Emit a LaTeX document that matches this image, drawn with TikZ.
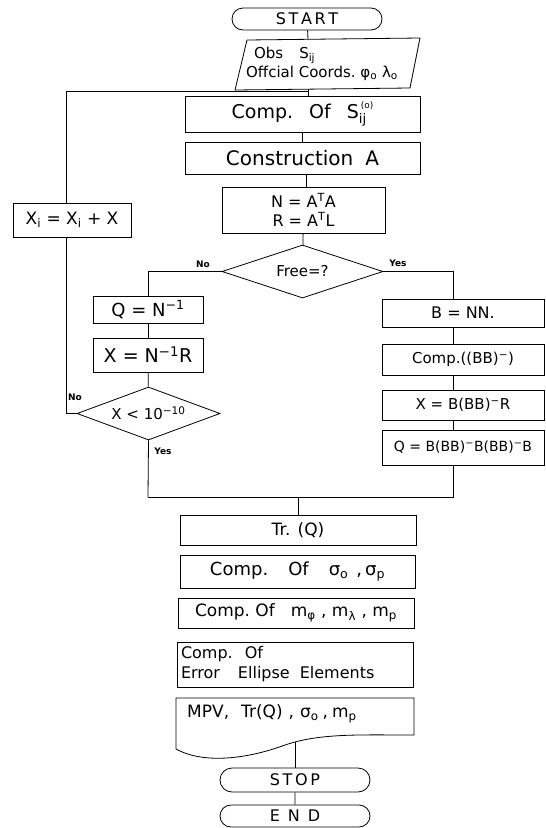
\documentclass[tikz,border=0pt]{standalone}
\usepackage{fontspec}
\setmainfont{DejaVu Sans}
\usetikzlibrary{shapes.geometric,shapes.misc}
\newcommand{\sub}[1]{\textsubscript{#1}}
\newcommand{\sups}[1]{\textsuperscript{#1}}
\tikzset{
  ln/.style={line width=0.8pt},
  box/.style={draw, ln, inner sep=0pt, font=\fontsize{16}{19}\selectfont},
  term/.style={box, rounded rectangle},
  dec/.style={draw, ln, diamond, inner sep=0pt, font=\fontsize{14}{17}\selectfont},
  lab/.style={font=\bfseries\fontsize{9}{10}\selectfont, inner sep=1pt},
  txt/.style={font=\fontsize{15}{19}\selectfont, inner sep=0pt}
}
\begin{document}
\begin{tikzpicture}[x=1pt,y=-1pt]
\useasboundingbox (0,0) rectangle (546,828);
% top
\node[term, minimum width=150pt, minimum height=22pt] (start) at (307,19) {S\,T\,A\,R\,T};
\coordinate (p1) at (235,90);
\coordinate (p2) at (247,40);
\coordinate (p3) at (420,38);
\coordinate (p4) at (410,88);
\draw[ln] (p1) -- (p2) -- (p3) -- (p4) -- cycle;
\node[txt, align=left] (obs) at (322,64) {\hspace{8pt}Obs\hspace{16pt}S\sub{ij}\\Offcial\ Coords.\ φ\sub{o} λ\sub{o}};
\coordinate (obsT) at (308,39);
\coordinate (obsB) at (308,89);
\node[box, minimum width=235pt, minimum height=36pt, font=\fontsize{19}{22}\selectfont] (comp) at (302.5,114) {Comp.\hspace{16pt}Of\hspace{16pt}S\sub{ij}\kern-6pt\raisebox{10pt}{\fontsize{9}{9}\selectfont(o)}};
\node[box, minimum width=235pt, minimum height=32pt, font=\fontsize{20}{22}\selectfont] (cons) at (302.5,158) {Construction\hspace{12pt}A};
\node[box, minimum width=163pt, minimum height=46pt, align=center] (na) at (303.5,210) {N = A\sups{T}A\\R = A\sups{T}L};
\node[dec, minimum width=161pt, minimum height=53pt, aspect=3, font=\fontsize{15}{18}\selectfont] (free) at (302.5,271.5) {Free=?};
% left branch
\node[box, minimum width=110pt, minimum height=27pt, font=\fontsize{18}{20}\selectfont] (q1) at (148,309.5) {Q = N\sups{−1}};
\node[box, minimum width=110pt, minimum height=34pt, font=\fontsize{19}{22}\selectfont] (x1) at (148,355) {X = N\sups{−1}R};
\node[dec, minimum width=143pt, minimum height=53pt, aspect=2.7, font=\fontsize{15}{18}\selectfont] (dx) at (148.5,413.5) {X < 10\sups{−10}};
\node[box, minimum width=118pt, minimum height=34pt, font=\fontsize{17}{20}\selectfont] (xi) at (72,220) {X\sub{i} = X\sub{i} + X};
% right branch
\node[box, minimum width=162pt, minimum height=28pt] (b) at (463,313) {B = NN.};
\node[box, minimum width=162pt, minimum height=31pt, font=\fontsize{15}{18}\selectfont] (cb) at (463,359.5) {Comp.((BB)\sups{−})};
\node[box, minimum width=162pt, minimum height=30pt, font=\fontsize{15}{18}\selectfont] (xb) at (463,405) {X = B(BB)\sups{−}R};
\node[box, minimum width=162pt, minimum height=35pt, font=\fontsize{14}{16}\selectfont] (qb) at (463,447.5) {Q = B(BB)\sups{−}B(BB)\sups{−}B};
% lower
\node[box, minimum width=236pt, minimum height=30pt, font=\fontsize{17}{20}\selectfont] (tr) at (298,530) {Tr. (Q)};
\node[box, minimum width=235pt, minimum height=33pt, font=\fontsize{18}{20}\selectfont] (cs) at (297.5,571.5) {Comp.\hspace{20pt}Of\hspace{20pt}σ\sub{o}\hspace{8pt},\,σ\sub{p}};
\node[box, minimum width=236pt, minimum height=30pt, font=\fontsize{17}{20}\selectfont] (cm) at (296,613) {Comp.\ Of\hspace{16pt}m\sub{φ} ,\ m\sub{λ} ,\ m\sub{p}};
\node[box, minimum width=236pt, minimum height=45pt, align=left, text width=228pt, font=\fontsize{16}{20}\selectfont] (ce) at (295,664.5) {Comp.\hspace{12pt}Of\\Error\hspace{18pt}Ellipse\hspace{10pt}Elements};
% document shape
\coordinate (d1) at (176,698);
\coordinate (d2) at (414,698);
\coordinate (d3) at (414,735);
\coordinate (d4) at (176,749);
\draw[ln] (d4) -- (d1) -- (d2) -- (d3) .. controls (360,735) and (320,733) .. (285,745) .. controls (250,758) and (205,765) .. (d4);
\node[txt, font=\fontsize{17}{20}\selectfont, anchor=west] (mpv) at (187,714) {MPV,\hspace{12pt}Tr(Q)\hspace{6pt},\hspace{6pt}σ\sub{o}\hspace{4pt},\hspace{4pt}m\sub{p}};
\coordinate (docB) at (295,742);
\node[term, minimum width=150pt, minimum height=24pt] (stop) at (295,780) {S\,T\,O\,P};
\node[term, minimum width=150pt, minimum height=22pt] (end) at (295,816) {E\,\,\,N\,\,\,D};
% helper coordinates
\coordinate (lx) at (66,0);
\coordinate (vx) at (453,0);
\coordinate (loopend) at (308,91);
\coordinate (joinL) at (148,497);
% connectors
\draw[ln] (start) -- (obsT);
\draw[ln] (obsB) -- (comp.north -| obsB);
\draw[ln] (comp) -- (cons);
\draw[ln] (cons.south -| 306,0) -- (na.north -| 306,0);
\draw[ln] (na) -- (free);
\draw[ln] (free.west) -| (q1.north);
\draw[ln] (q1) -- (x1);
\draw[ln] (x1) -- (dx);
\draw[ln] (free.east) -| (b.north -| vx);
\draw[ln] (b.south -| vx) -- (cb.north -| vx);
\draw[ln] (cb.south -| vx) -- (xb.north -| vx);
\draw[ln] (xb.south -| vx) -- (qb.north -| vx);
\draw[ln] (dx.west) -| (xi.south -| lx);
\draw[ln] (xi.north -| lx) |- (loopend);
\draw[ln] (dx.south) -- (joinL);
\draw[ln] (qb.south -| vx) |- (joinL);
\draw[ln] (tr.north |- joinL) -- (tr.north);
\draw[ln] (docB) -- (stop);
\draw[ln] (stop) -- (end);
% labels
\node[lab] (lno1) at (203,264) {No};
\node[lab] (lyes1) at (398,263) {Yes};
\node[lab] (lno2) at (75,397) {No};
\node[lab] (lyes2) at (163,451) {Yes};
\end{tikzpicture}
\end{document}
